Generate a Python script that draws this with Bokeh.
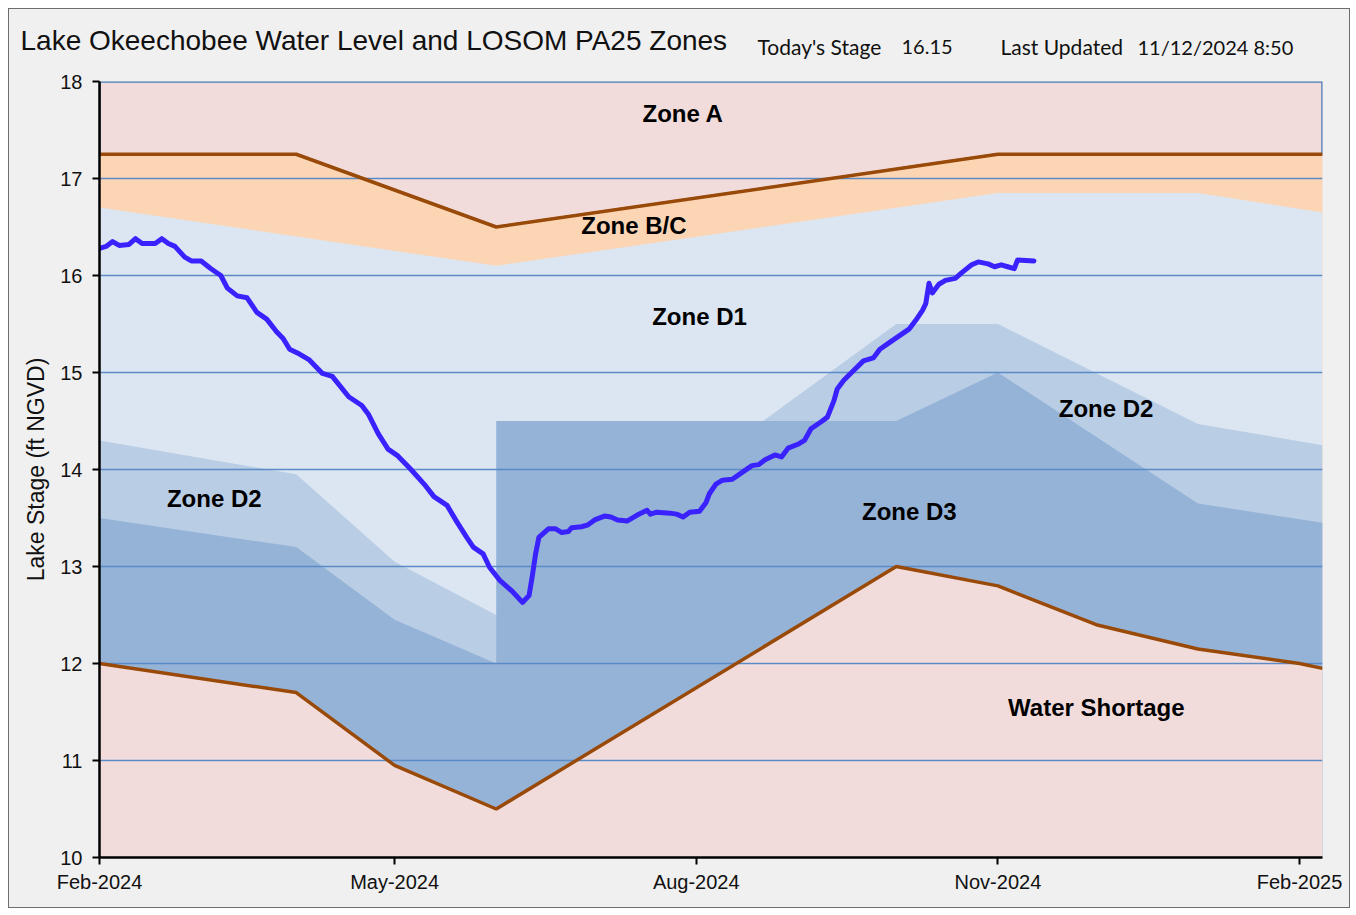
import pandas as pd
from bokeh.plotting import figure
from bokeh.layouts import column
from bokeh.models import Range1d, FixedTicker, DatetimeTickFormatter, Label
from bokeh.core.properties import value
from bokeh.embed import file_html
from bokeh.resources import INLINE

# ---------------- data ----------------
stage_dates = [
    "2024-02-01", "2024-02-03", "2024-02-05", "2024-02-07", "2024-02-10", "2024-02-12",
    "2024-02-14", "2024-02-18", "2024-02-20", "2024-02-22", "2024-02-24", "2024-02-27",
    "2024-02-29", "2024-03-03", "2024-03-06", "2024-03-09", "2024-03-11", "2024-03-14",
    "2024-03-17", "2024-03-20", "2024-03-23", "2024-03-26", "2024-03-28", "2024-03-30",
    "2024-04-02", "2024-04-05", "2024-04-09", "2024-04-12", "2024-04-17", "2024-04-21",
    "2024-04-23", "2024-04-26", "2024-04-29", "2024-05-02", "2024-05-06", "2024-05-10",
    "2024-05-13", "2024-05-17", "2024-05-20", "2024-05-23", "2024-05-25", "2024-05-28",
    "2024-05-30", "2024-06-02", "2024-06-06", "2024-06-09", "2024-06-11", "2024-06-12",
    "2024-06-13", "2024-06-14", "2024-06-17", "2024-06-19", "2024-06-21", "2024-06-23",
    "2024-06-24", "2024-06-27", "2024-06-29", "2024-07-01", "2024-07-04", "2024-07-06",
    "2024-07-08", "2024-07-11", "2024-07-14", "2024-07-17", "2024-07-18", "2024-07-20",
    "2024-07-24", "2024-07-26", "2024-07-28", "2024-07-30", "2024-08-02", "2024-08-04",
    "2024-08-05", "2024-08-07", "2024-08-09", "2024-08-12", "2024-08-15", "2024-08-18",
    "2024-08-20", "2024-08-22", "2024-08-25", "2024-08-27", "2024-08-29", "2024-09-01",
    "2024-09-03", "2024-09-05", "2024-09-08", "2024-09-10", "2024-09-12", "2024-09-13",
    "2024-09-15", "2024-09-18", "2024-09-21", "2024-09-24", "2024-09-26", "2024-09-29",
    "2024-10-02", "2024-10-05", "2024-10-07", "2024-10-09", "2024-10-10", "2024-10-11",
    "2024-10-12", "2024-10-14", "2024-10-16", "2024-10-19", "2024-10-21", "2024-10-24",
    "2024-10-26", "2024-10-29", "2024-10-31", "2024-11-02", "2024-11-04", "2024-11-06",
    "2024-11-07", "2024-11-12",
]
stage_values = [
    16.28, 16.30, 16.35, 16.31, 16.32, 16.38,
    16.33, 16.33, 16.38, 16.33, 16.30, 16.19,
    16.15, 16.15, 16.07, 16.00, 15.87, 15.79,
    15.77, 15.62, 15.55, 15.42, 15.35, 15.24,
    15.19, 15.13, 14.99, 14.96, 14.75, 14.66,
    14.57, 14.37, 14.21, 14.14, 14.00, 13.85,
    13.72, 13.63, 13.46, 13.30, 13.20, 13.13,
    12.99, 12.86, 12.74, 12.63, 12.70, 12.90,
    13.13, 13.30, 13.39, 13.39, 13.35, 13.36,
    13.40, 13.41, 13.43, 13.48, 13.52, 13.51,
    13.48, 13.47, 13.53, 13.58, 13.54, 13.56,
    13.55, 13.54, 13.51, 13.56, 13.57, 13.66,
    13.75, 13.85, 13.89, 13.90, 13.97, 14.04,
    14.05, 14.10, 14.15, 14.13, 14.22, 14.26,
    14.30, 14.42, 14.49, 14.54, 14.71, 14.83,
    14.92, 15.02, 15.12, 15.15, 15.24, 15.31,
    15.38, 15.45, 15.54, 15.64, 15.71, 15.92,
    15.82, 15.91, 15.95, 15.97, 16.03, 16.11,
    16.14, 16.12, 16.09, 16.11, 16.09, 16.07,
    16.16, 16.15,
]

# Zone A floor (upper brown line)
zone_a_dates = ["2024-02-01", "2024-04-01", "2024-06-01", "2024-11-01", "2025-02-08"]
zone_a_floor = [17.25, 17.25, 16.5, 17.25, 17.25]

# Zone B/C floor = top of Zone D1
zone_d1_dates = ["2024-02-01", "2024-06-01", "2024-11-01", "2025-01-01", "2025-02-08"]
zone_d1_top = [16.7, 16.1, 16.85, 16.85, 16.65]

# Top of Zone D2
zone_d2_dates = ["2024-02-01", "2024-04-01", "2024-05-01", "2024-06-01", "2024-08-01",
                 "2024-10-01", "2024-11-01", "2025-01-01", "2025-02-08"]
zone_d2_top = [14.3, 13.95, 13.05, 12.5, 14.0, 15.5, 15.5, 14.47, 14.25]

# Top of Zone D3
zone_d3_dates = ["2024-02-01", "2024-04-01", "2024-05-01", "2024-06-01", "2024-06-01",
                 "2024-10-01", "2024-11-01", "2025-01-01", "2025-02-08"]
zone_d3_top = [13.5, 13.2, 12.45, 12.0, 14.5, 14.5, 15.0, 13.65, 13.45]

# Water shortage line (lower brown line)
ws_dates = ["2024-02-01", "2024-04-01", "2024-05-01", "2024-06-01", "2024-10-01",
            "2024-11-01", "2024-12-01", "2025-01-01", "2025-02-01", "2025-02-08"]
ws_top = [12.0, 11.7, 10.95, 10.5, 13.0, 12.8, 12.4, 12.15, 12.0, 11.95]

x_tick_dates = ["2024-02-01", "2024-05-01", "2024-08-01", "2024-11-01", "2025-02-01"]
y_ticks = [10, 11, 12, 13, 14, 15, 16, 17, 18]
x_start, x_end = "2024-02-01", "2025-02-08"
y_min, y_max = 10, 18

title_text = "Lake Okeechobee Water Level and LOSOM PA25 Zones"
info_words = ["Today's Stage", "Last Updated"]
info_values = ["16.15", "11/12/2024 8:50"]
y_axis_label = "Lake Stage (ft NGVD)"

# ---------------- helpers ----------------
def dt(lst):
    return pd.to_datetime(lst)

PINK = "#f2dcdb"
ORANGE = "#fcd5b5"
D1 = "#dce6f2"
D2 = "#b9cde5"
D3 = "#95b3d7"
BROWN = "#9a4a08"
STAGE = "#3a22ff"
GRID = "#5b8bc6"
BG = "#f0f0f0"
W = 1340

# ---------------- header (title row) ----------------
head = figure(width=W, height=60, x_range=Range1d(0, W), y_range=Range1d(0, 60),
              output_backend="svg", toolbar_location=None,
              x_axis_location=None, y_axis_location=None,
              min_border_left=0, min_border_right=0, min_border_top=0, min_border_bottom=0,
              background_fill_color=BG, border_fill_color=BG)
head.frame_align = False
head.outline_line_color = None
head.xgrid.visible = False
head.ygrid.visible = False
head.text(x=[11], y=[29], text=[title_text], text_align="left", text_baseline="middle",
          text_font=value("Liberation Sans"), text_font_size="28px", text_color="#111111")
head.text(x=[748, 991], y=[23, 23], text=info_words,
          text_align="left", text_baseline="middle",
          text_font=value("Lato"), text_font_size="21px", text_color="#111111")
head.text(x=[892, 1128], y=[23, 23], text=info_values,
          text_align="left", text_baseline="middle",
          text_font=value("Lato"), text_font_size="20px", text_color="#111111")

# ---------------- main chart ----------------
p = figure(
    width=W, height=838,
    x_axis_type="datetime",
    x_range=Range1d(start=pd.Timestamp(x_start), end=pd.Timestamp(x_end)),
    y_range=Range1d(start=y_min, end=y_max),
    output_backend="svg", toolbar_location=None,
    min_border_left=90, min_border_right=27, min_border_top=12, min_border_bottom=50,
    background_fill_color=PINK, border_fill_color=BG,
)
p.frame_align = False
p.outline_line_color = None

# ---- zone areas (painter's order) ----
za = list(dt(zone_a_dates))
p.patch(x=za + [za[-1], za[0]], y=zone_a_floor + [y_max, y_max],
        fill_color=PINK, line_color="#4a7ebb", line_width=2.5, level="image")
p.varea(x=dt(zone_a_dates), y1=y_min, y2=zone_a_floor, fill_color=ORANGE, level="image")
p.varea(x=dt(zone_d1_dates), y1=y_min, y2=zone_d1_top, fill_color=D1, level="image")
p.varea(x=dt(zone_d2_dates), y1=y_min, y2=zone_d2_top, fill_color=D2, level="image")
p.varea(x=dt(zone_d3_dates), y1=y_min, y2=zone_d3_top, fill_color=D3, level="image")
p.varea(x=dt(ws_dates), y1=y_min, y2=ws_top, fill_color=PINK, level="image")

# ---- grid ----
p.xgrid.visible = False
p.ygrid.ticker = FixedTicker(ticks=y_ticks)
p.ygrid.grid_line_color = GRID
p.ygrid.grid_line_width = 1.3

# ---- brown boundary lines ----
p.line(x=dt(zone_a_dates), y=zone_a_floor, line_color=BROWN, line_width=3.5)
p.line(x=dt(ws_dates), y=ws_top, line_color=BROWN, line_width=3.5)

# ---- lake stage ----
p.line(x=dt(stage_dates), y=stage_values, line_color=STAGE, line_width=5,
       line_join="round", line_cap="round")

# ---- axes ----
tick_ms = [pd.Timestamp(d).value // 10**6 for d in x_tick_dates]
p.xaxis.ticker = FixedTicker(ticks=tick_ms)
p.xaxis.formatter = DatetimeTickFormatter(months="%b-%Y", days="%b-%Y", years="%b-%Y")
p.yaxis.ticker = FixedTicker(ticks=y_ticks)
for ax in (p.xaxis, p.yaxis):
    ax.axis_line_color = "black"
    ax.axis_line_width = 2.5
    ax.major_tick_line_color = "black"
    ax.major_tick_line_width = 2
    ax.major_tick_out = 7
    ax.major_tick_in = 0
    ax.minor_tick_line_color = None
    ax.major_label_text_font = "Liberation Sans"
    ax.major_label_text_font_size = "20px"
    ax.major_label_text_color = "#111111"
p.yaxis.major_label_standoff = 10
p.xaxis.major_label_standoff = 6
p.yaxis.axis_label = y_axis_label
p.yaxis.axis_label_text_font = "Liberation Sans"
p.yaxis.axis_label_text_font_size = "23px"
p.yaxis.axis_label_text_font_style = "normal"
p.yaxis.axis_label_text_color = "#111111"
p.yaxis.axis_label_standoff = 8

# ---- zone labels ----
zone_labels = [
    ("Zone A", "2024-07-28", 17.67),
    ("Zone B/C", "2024-07-13", 16.52),
    ("Zone D1", "2024-08-02", 15.58),
    ("Zone D2", "2024-03-07", 13.70),
    ("Zone D2", "2024-12-04", 14.63),
    ("Zone D3", "2024-10-05", 13.57),
    ("Water Shortage", "2024-12-01", 11.55),
]
for txt, d, yv in zone_labels:
    p.add_layout(Label(x=pd.Timestamp(d), y=yv, text=txt, text_align="center",
                       text_baseline="middle", text_font="Liberation Sans",
                       text_font_style="bold", text_font_size="24px",
                       text_color="black"))

layout = column(head, p, spacing=0,
                styles={"margin": "8px", "border": "1px solid #6d6d6d",
                        "background-color": BG})

open("out.html", "w").write(file_html(layout, INLINE))
